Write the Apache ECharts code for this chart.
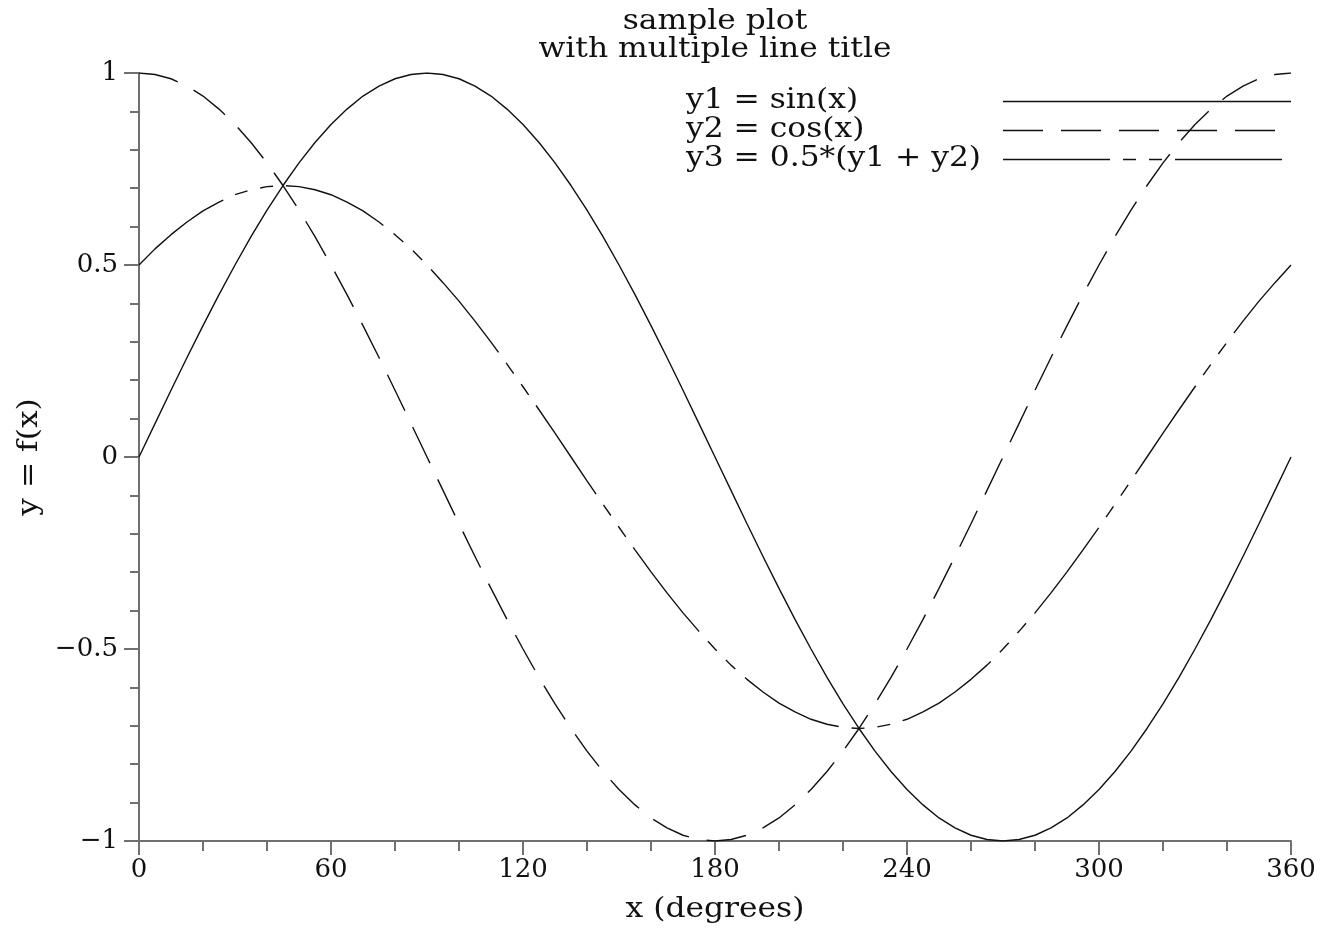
<!DOCTYPE html>
<html>
<head>
<meta charset="utf-8">
<script src="https://cdn.jsdelivr.net/npm/echarts@6/dist/echarts.min.js"></script>
<style>
html,body{margin:0;padding:0;background:#fff;}
#chart{width:1333px;height:929px;}
</style>
</head>
<body>
<div id="chart"></div>
<script>
// x in degrees, sampled every 5 degrees
const xDegrees = [0,5,10,15,20,25,30,35,40,45,50,55,60,65,70,75,80,85,90,95,100,105,110,115,120,125,130,135,140,145,150,155,160,165,170,175,180,185,190,195,200,205,210,215,220,225,230,235,240,245,250,255,260,265,270,275,280,285,290,295,300,305,310,315,320,325,330,335,340,345,350,355,360];
const y1Values = [0,0.087,0.174,0.259,0.342,0.423,0.5,0.574,0.643,0.707,0.766,0.819,0.866,0.906,0.940,0.966,0.985,0.996,1,
  0.996,0.985,0.966,0.940,0.906,0.866,0.819,0.766,0.707,0.643,0.574,0.5,0.423,0.342,0.259,0.174,0.087,0,
  -0.087,-0.174,-0.259,-0.342,-0.423,-0.5,-0.574,-0.643,-0.707,-0.766,-0.819,-0.866,-0.906,-0.940,-0.966,-0.985,-0.996,-1,
  -0.996,-0.985,-0.966,-0.940,-0.906,-0.866,-0.819,-0.766,-0.707,-0.643,-0.574,-0.5,-0.423,-0.342,-0.259,-0.174,-0.087,0];
const y2Values = [1,0.996,0.985,0.966,0.940,0.906,0.866,0.819,0.766,0.707,0.643,0.574,0.5,0.423,0.342,0.259,0.174,0.087,0,
  -0.087,-0.174,-0.259,-0.342,-0.423,-0.5,-0.574,-0.643,-0.707,-0.766,-0.819,-0.866,-0.906,-0.940,-0.966,-0.985,-0.996,-1,
  -0.996,-0.985,-0.966,-0.940,-0.906,-0.866,-0.819,-0.766,-0.707,-0.643,-0.574,-0.5,-0.423,-0.342,-0.259,-0.174,-0.087,0,
  0.087,0.174,0.259,0.342,0.423,0.5,0.574,0.643,0.707,0.766,0.819,0.866,0.906,0.940,0.966,0.985,0.996,1];
const y3Values = [0.5,0.542,0.579,0.612,0.641,0.664,0.683,0.696,0.704,0.707,0.704,0.696,0.683,0.664,0.641,0.612,0.579,0.542,0.5,
  0.454,0.406,0.354,0.299,0.242,0.183,0.123,0.062,0,-0.062,-0.123,-0.183,-0.242,-0.299,-0.354,-0.406,-0.454,-0.5,
  -0.542,-0.579,-0.612,-0.641,-0.664,-0.683,-0.696,-0.704,-0.707,-0.704,-0.696,-0.683,-0.664,-0.641,-0.612,-0.579,-0.542,-0.5,
  -0.454,-0.406,-0.354,-0.299,-0.242,-0.183,-0.123,-0.062,0,0.062,0.123,0.183,0.242,0.299,0.354,0.406,0.454,0.5];
const seriesNames = ['y1 = sin(x)','y2 = cos(x)','y3 = 0.5*(y1 + y2)'];
const titleLines = ['sample plot','with multiple line title'];
const xAxisName = 'x (degrees)';
const yAxisName = 'y = f(x)';

const FONT = 'DejaVu Serif';
const INK = '#111';
const AX = '#707070';
const SX = 1.16;
const dashes = [null, [40,18], [107,13,13,13,13,13]];

const chart = echarts.init(document.getElementById('chart'), null, {renderer:'canvas'});
const pair = ys => xDegrees.map((x,i)=>[x, ys[i]]);
const allY = [y1Values, y2Values, y3Values];

function label(text, x, y, align, rot){
  return {type:'text', x:x, y:y, scaleX:SX, rotation:rot||0, silent:true,
    style:{text:text, x:0, y:0, font:'27px "'+FONT+'"', fill:INK, align:align, verticalAlign:'middle'}};
}

const graphics = [];
graphics.push(label(titleLines[0], 715, 22, 'center'));
graphics.push(label(titleLines[1], 715, 50, 'center'));
graphics.push(label(xAxisName, 715, 910, 'center'));
graphics.push(label(yAxisName, 30, 457, 'center', Math.PI/2));
const legendX = 686, lineX1 = 1003, lineX2s = [1291,1285,1285], legendY = [101,130,159];
seriesNames.forEach((n,i)=>{
  graphics.push(label(n, legendX, legendY[i], 'left'));
  graphics.push({type:'line', silent:true, shape:{x1:lineX1,y1:legendY[i]+0.5,x2:lineX2s[i],y2:legendY[i]+0.5},
    style:{stroke:INK, lineWidth:1.4, lineDash:dashes[i]||null}});
});

chart.setOption({
  backgroundColor:'#fff',
  animation:false,
  grid:{left:139, right:42, top:73, bottom:88, containLabel:false, outerBoundsMode:'none'},
  xAxis:{
    type:'value', min:0, max:360, interval:60,
    axisLine:{show:true, onZero:false, lineStyle:{color:AX, width:2}},
    axisTick:{show:true, inside:false, length:14, lineStyle:{color:AX, width:2}},
    minorTick:{show:true, splitNumber:3, length:10, lineStyle:{color:AX, width:2}},
    axisLabel:{fontFamily:FONT, fontSize:26, color:INK, margin:16},
    splitLine:{show:false}
  },
  yAxis:{
    type:'value', min:-1, max:1, interval:0.5,
    axisLine:{show:true, onZero:false, lineStyle:{color:AX, width:2}},
    axisTick:{show:true, inside:false, length:15, lineStyle:{color:AX, width:2}},
    minorTick:{show:true, splitNumber:5, length:9, lineStyle:{color:AX, width:2}},
    axisLabel:{fontFamily:FONT, fontSize:26, color:INK, margin:21,
      formatter:v=>String(v).replace('-','\u2212')},
    splitLine:{show:false}
  },
  series: allY.map((ys,i)=>({
    type:'line', name:seriesNames[i], data:pair(ys), smooth:false,
    showSymbol:false, symbol:'none',
    lineStyle:{color:INK, width:1.4, type: dashes[i] ? dashes[i] : 'solid', dashOffset:0}
  })),
  graphic: graphics
});
</script>
</body>
</html>
